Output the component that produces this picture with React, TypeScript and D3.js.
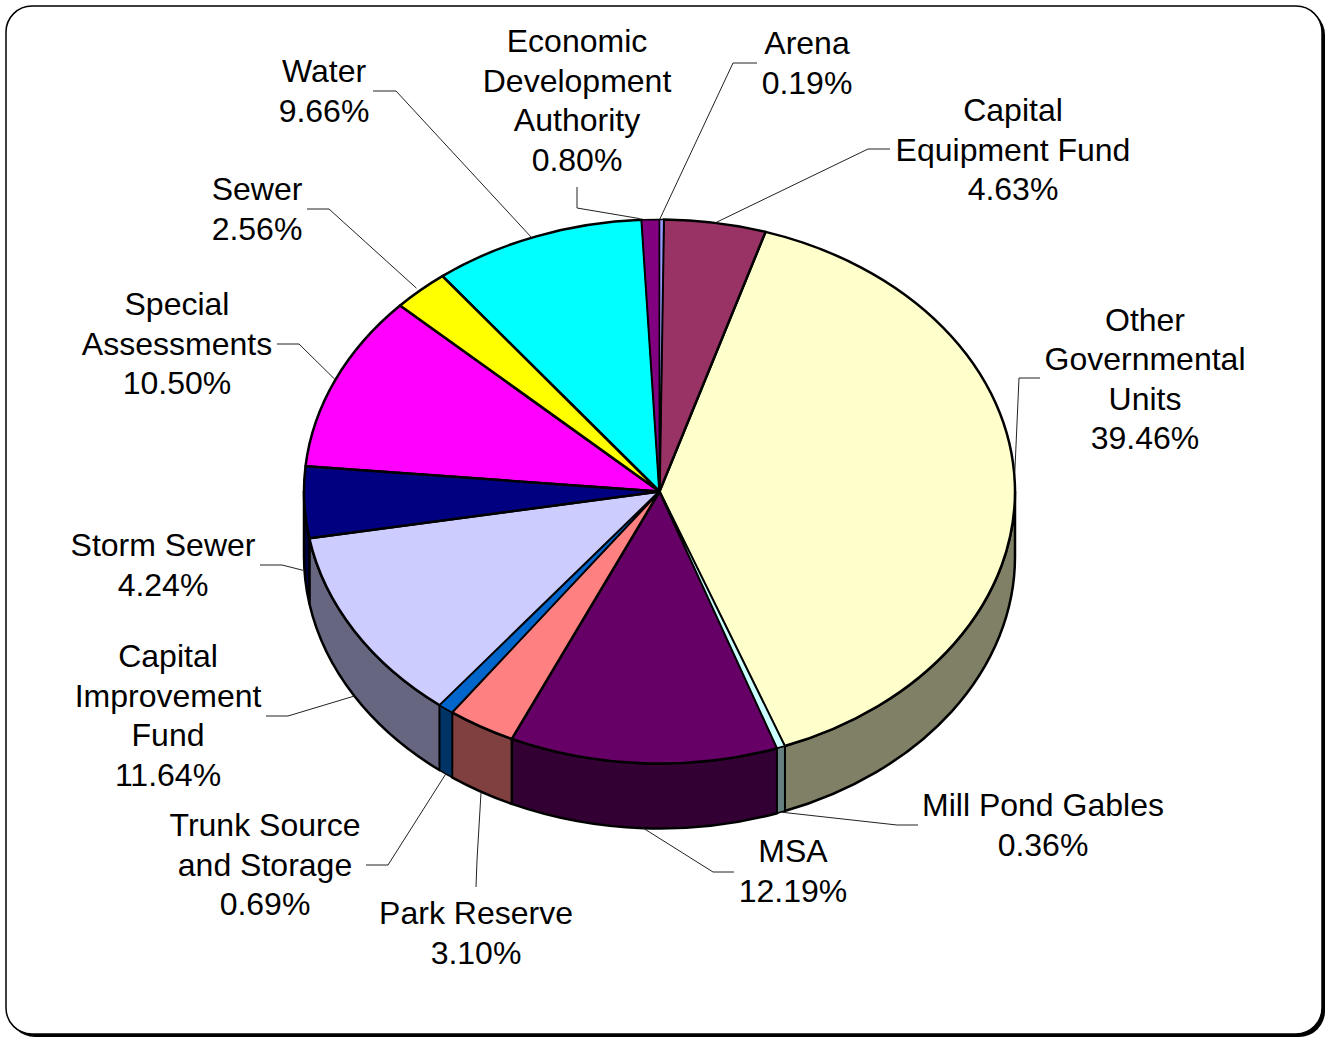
import React, { useEffect, useRef } from 'react';
import * as d3 from 'd3';

const width = 1325;
const height = 1038;

// values, clockwise from 12 o'clock
const funds = [
  'Arena', 'Capital Equipment Fund', 'Other Governmental Units', 'Mill Pond Gables', 'MSA',
  'Park Reserve', 'Trunk Source and Storage', 'Capital Improvement Fund', 'Storm Sewer',
  'Special Assessments', 'Sewer', 'Water', 'Economic Development Authority'
];
const percents = [0.19, 4.63, 39.46, 0.36, 12.19, 3.1, 0.69, 11.64, 4.24, 10.5, 2.56, 9.66, 0.8];
const colors = [
  '#9999FF', '#993366', '#FFFFCC', '#CCFFFF', '#660066', '#FF8080', '#0066CC',
  '#CCCCFF', '#000080', '#FF00FF', '#FFFF00', '#00FFFF', '#800080'
];

// label text split the way it wraps on the chart
const labelLines = [
  ['Arena'], ['Capital', 'Equipment Fund'], ['Other', 'Governmental', 'Units'], ['Mill Pond Gables'], ['MSA'],
  ['Park Reserve'], ['Trunk Source', 'and Storage'], ['Capital', 'Improvement', 'Fund'], ['Storm Sewer'],
  ['Special', 'Assessments'], ['Sewer'], ['Water'], ['Economic', 'Development', 'Authority']
];

// label placement: centre x, first baseline
const labelPos: [number, number][] = [
  [807, 54], [1013, 121], [1145, 330.5], [1043, 816], [793, 862], [476, 924], [265, 836],
  [168, 667], [163, 556], [177, 315], [257, 200], [324, 82], [577, 52]
];

// leader line bends, label end first; the tip is worked out from the slice
const leaderBends: [number, number][][] = [
  [[757, 63], [733, 63]],
  [[890, 149], [868, 149]],
  [[1040, 378], [1019, 378]],
  [[918, 825], [897, 825]],
  [[734, 872], [713, 872]],
  [[476, 887], [477, 860]],
  [[366, 865], [388, 865]],
  [[266, 716], [288, 716]],
  [[260, 565], [282, 565]],
  [[277, 344], [299, 344]],
  [[307, 209], [329, 209]],
  [[373, 91], [396, 91]],
  [[577, 187], [577, 208]]
];
const tipNudge: [number, number][] = [
  [-2, 0], [0, 0], [0, -12], [0, 0], [0, 0], [0, 0], [0, 0], [0, 0], [-1, 3], [0, 0], [-4, -2], [-5, 1], [-11, -1]
];

const cx = 659.5;
const cy = 491.5;
const rx = 355.5;
const ry = 272;
const depth = 65;

const halfShade = (c: string) => {
  const { r, g, b } = d3.rgb(c);
  return d3.rgb(r / 2, g / 2, b / 2).formatHex();
};

const App: React.FC = () => {
  const svgRef = useRef<SVGSVGElement>(null);

  useEffect(() => {
    if (!svgRef.current) return;
    const svg = d3.select(svgRef.current);
    svg.selectAll('*').remove();

    const xScale = d3.scaleLinear().domain([-1, 1]).range([cx - rx, cx + rx]);
    const yScale = d3.scaleLinear().domain([-1, 1]).range([cy - ry, cy + ry]);
    const px = (a: number) => xScale(Math.sin(a));
    const py = (a: number) => yScale(-Math.cos(a));
    const arcTo = (a0: number, a1: number, y0 = 0) =>
      `A${rx},${ry} 0 ${a1 - a0 > Math.PI ? 1 : 0} 1 ${px(a1)},${py(a1) + y0}`;

    const slices = d3.pie<number>().sort(null).value(d => d)(percents);
    // thin slices go last with a finer outline, or their colour disappears under the lines
    const bySize = [...slices].sort((a, b) => b.value - a.value);
    const outline = (v: number) => (v < 1 ? 1.5 : 2.5);

    // frame with hard shadow
    svg.append('rect')
      .attr('x', 9).attr('y', 9).attr('width', 1316).attr('height', 1028)
      .attr('rx', 26).attr('fill', '#000');
    svg.append('rect')
      .attr('x', 6).attr('y', 6).attr('width', 1316).attr('height', 1028)
      .attr('rx', 26).attr('fill', '#fff').attr('stroke', '#000').attr('stroke-width', 1.5);

    // side wall, only the front half of the rim shows
    const front0 = Math.PI / 2;
    const front1 = Math.PI * 1.5;
    svg.append('g').selectAll('path')
      .data(bySize.filter(s => s.endAngle > front0 && s.startAngle < front1))
      .join('path')
      .attr('d', s => {
        const a0 = Math.max(s.startAngle, front0);
        const a1 = Math.min(s.endAngle, front1);
        return `M${px(a0)},${py(a0)}${arcTo(a0, a1)}L${px(a1)},${py(a1) + depth}` +
          `A${rx},${ry} 0 0 0 ${px(a0)},${py(a0) + depth}Z`;
      })
      .attr('fill', s => halfShade(colors[s.index]))
      .attr('stroke', '#000')
      .attr('stroke-width', s => outline(s.value))
      .attr('stroke-linejoin', 'round');

    // top face
    svg.append('g').selectAll('path')
      .data(bySize)
      .join('path')
      .attr('d', s => `M${cx},${cy}L${px(s.startAngle)},${py(s.startAngle)}${arcTo(s.startAngle, s.endAngle)}Z`)
      .attr('fill', s => colors[s.index])
      .attr('stroke', '#000')
      .attr('stroke-width', s => outline(s.value))
      .attr('stroke-linejoin', 'round');

    // leader lines
    const line = d3.line();
    svg.append('g').selectAll('path')
      .data(slices)
      .join('path')
      .attr('d', s => {
        const mid = (s.startAngle + s.endAngle) / 2;
        const onWall = mid > front0 && mid < front1;
        const tip: [number, number] = [
          px(mid) + tipNudge[s.index][0],
          py(mid) + (onWall ? depth : 0) + tipNudge[s.index][1]
        ];
        return line([...leaderBends[s.index], tip]);
      })
      .attr('fill', 'none')
      .attr('stroke', '#222')
      .attr('stroke-width', 1);

    // labels
    const labels = svg.append('g')
      .attr('font-family', '"Liberation Sans", Arial, sans-serif')
      .attr('font-size', 32)
      .attr('text-anchor', 'middle')
      .attr('fill', '#000');
    funds.forEach((name, i) => {
      const lines = [...labelLines[i], `${percents[i].toFixed(2)}%`];
      const text = labels.append('text').attr('data-fund', name);
      lines.forEach((t, j) => {
        text.append('tspan')
          .attr('x', labelPos[i][0])
          .attr('y', labelPos[i][1] + j * 39.5)
          .text(t);
      });
    });
  }, []);

  return (
    <svg
      ref={svgRef}
      width={width}
      height={height}
      style={{ position: 'absolute', left: 0, top: 0 }}
    />
  );
};

export default App;
